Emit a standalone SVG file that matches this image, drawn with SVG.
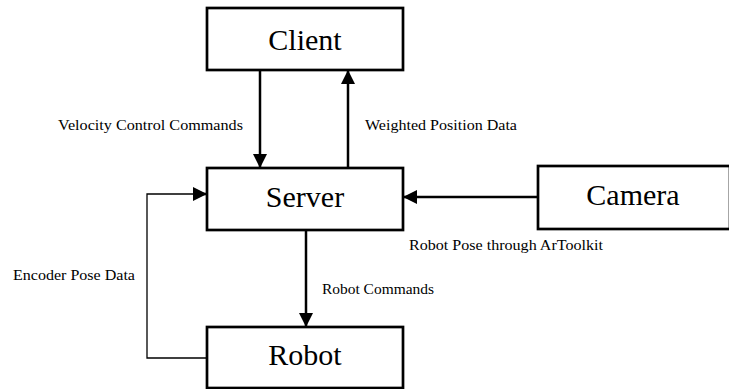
<svg xmlns="http://www.w3.org/2000/svg" width="729" height="389" viewBox="0 0 729 389">
<style>
.box{fill:#fff;stroke:#000;stroke-width:2.7}
.big{font-family:"Liberation Serif",serif;font-size:30px;text-anchor:middle;fill:#000}
.lbl{font-family:"Liberation Serif",serif;font-size:14px;fill:#000}
.c{fill:none;stroke:#000;stroke-width:2.5}
.t{fill:none;stroke:#000;stroke-width:1.3}
</style>
<defs>
<marker id="ah" markerWidth="14" markerHeight="14" refX="13" refY="7" orient="auto" markerUnits="userSpaceOnUse">
<path d="M0,0 L14,7 L0,14 z" fill="#000"/>
</marker>
</defs>
<g id="connectors">
<line class="c" x1="260" y1="70" x2="260" y2="167" marker-end="url(#ah)"/>
<line class="c" x1="348" y1="168" x2="348" y2="71" marker-end="url(#ah)"/>
<line class="c" x1="538" y1="197" x2="404" y2="197" marker-end="url(#ah)"/>
<line class="c" x1="306" y1="230" x2="306" y2="326" marker-end="url(#ah)"/>
<polyline class="t" points="207,358 147,358 147,194 205,194"/>
<line class="c" x1="195" y1="194" x2="206" y2="194" marker-end="url(#ah)"/>
<text class="lbl" x="58" y="130" textLength="185" lengthAdjust="spacingAndGlyphs">Velocity Control Commands</text>
<text class="lbl" x="365" y="130" textLength="152" lengthAdjust="spacingAndGlyphs">Weighted Position Data</text>
<text class="lbl" x="409" y="250" textLength="194" lengthAdjust="spacingAndGlyphs">Robot Pose through ArToolkit</text>
<text class="lbl" x="13" y="280" textLength="122" lengthAdjust="spacingAndGlyphs">Encoder Pose Data</text>
<text class="lbl" x="322" y="294" textLength="112" lengthAdjust="spacingAndGlyphs">Robot Commands</text>
</g>
<g id="client"><rect class="box" x="207" y="8" width="196" height="62"/><text class="big" x="305" y="50">Client</text></g>
<g id="server"><rect class="box" x="207" y="168" width="196" height="62"/><text class="big" x="305" y="207">Server</text></g>
<g id="camera"><rect class="box" x="538" y="166" width="192" height="63"/><text class="big" x="633" y="205">Camera</text></g>
<g id="robot"><rect class="box" x="207" y="327" width="196" height="61"/><text class="big" x="305" y="365">Robot</text></g>
</svg>
